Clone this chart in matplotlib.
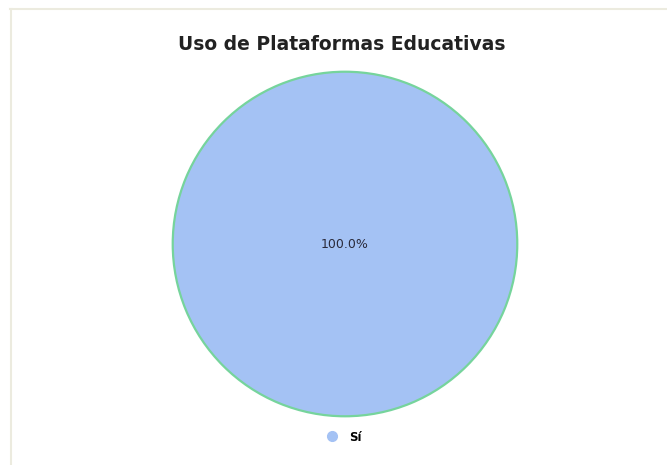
import matplotlib
matplotlib.use("Agg")
import matplotlib.pyplot as plt
from matplotlib.lines import Line2D

plt.rcParams['font.family'] = ['DejaVu Sans']

title = "Uso de Plataformas Educativas"
labels = ["Sí"]
values = [100]
colors = ["#a4c2f4"]
edge = "#76d49c"

W, H = 667, 465
fig = plt.figure(figsize=(W / 100, H / 100), dpi=100)

# light frame (top and left only visible)
border = "#ecebdf"
fig.add_artist(Line2D([10 / W, 666 / W], [1 - 9.5 / H, 1 - 9.5 / H], color=border, lw=1.5))
fig.add_artist(Line2D([10.5 / W, 10.5 / W], [0, 1 - 9.5 / H], color=border, lw=1.5))

ax = fig.add_axes([171 / W, 47 / H, 348 / W, 348 / H])
ax.pie(values, colors=colors, autopct="%.1f%%", startangle=90,
       wedgeprops=dict(edgecolor=edge, linewidth=1.6),
       textprops=dict(fontsize=9, color="#2a2a3a"), pctdistance=0.0)
ax.set_xlim(-1.01, 1.01)
ax.set_ylim(-1.01, 1.01)
ax.set_aspect("equal")

fig.text(342 / W, 1 - 45 / H, title, ha="center", va="center",
         fontsize=13.5, fontweight="bold", color="#222222")

handles = [Line2D([], [], marker="o", linestyle="", markersize=7,
                  markerfacecolor=c, markeredgecolor=c) for c in colors]
fig.legend(handles, labels, loc="center", bbox_to_anchor=(344 / W, 1 - 437 / H),
           frameon=False, prop=dict(size=8.5, weight="bold"),
           handletextpad=0.9, handlelength=1.0)

fig.savefig("out.png", dpi=100)
